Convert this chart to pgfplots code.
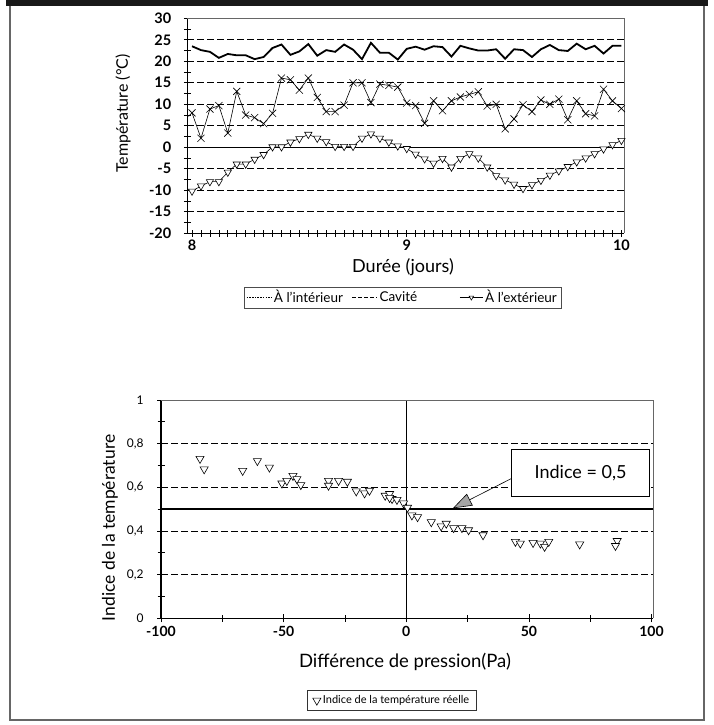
\documentclass[border=0pt]{standalone}
\usepackage{fontspec}
\setmainfont{Lato}
\usepackage{pgfplots}
\pgfplotsset{compat=1.18}
\usepackage{pgfplotstable}
\usetikzlibrary{arrows.meta}

\pgfplotstableread{
h v
0 23.5
1 22.6
2 22.2
3 20.8
4 21.7
5 21.4
6 21.4
7 20.5
8 21.0
9 23.1
10 23.9
11 21.5
12 22.3
13 24.0
14 21.3
15 22.6
16 22.2
17 23.9
18 22.7
19 20.5
20 24.3
21 22.0
22 22.0
23 20.4
24 22.9
25 23.4
26 22.7
27 23.5
28 23.3
29 21.1
30 23.6
31 23.0
32 22.5
33 22.5
34 22.8
35 20.6
36 22.8
37 22.6
38 21.0
39 22.8
40 23.8
41 22.6
42 22.4
43 24.1
44 22.8
45 23.6
46 21.8
47 23.6
48 23.6
}\inside

\pgfplotstableread{
h v
0 8.0
1 2.1
2 8.9
3 9.7
4 3.3
5 13.0
6 7.5
7 6.9
8 5.5
9 7.9
10 16.1
11 15.7
12 13.3
13 16.1
14 11.6
15 8.3
16 8.3
17 9.8
18 15.0
19 15.0
20 10.4
21 14.7
22 14.4
23 14.0
24 10.3
25 9.7
26 5.6
27 10.8
28 8.5
29 10.8
30 11.7
31 12.3
32 12.9
33 9.6
34 10.0
35 4.3
36 6.6
37 9.9
38 8.3
39 11.0
40 10.0
41 11.2
42 6.4
43 10.8
44 7.8
45 7.3
46 13.5
47 10.8
48 9.0
}\cavity

\pgfplotstableread{
h v
0 -10.2
1 -9.0
2 -8.0
3 -8.0
4 -5.8
5 -3.9
6 -3.9
7 -2.8
8 -1.7
9 0.1
10 0.1
11 1.2
12 2.0
13 3.0
14 2.1
15 1.3
16 0.2
17 0.2
18 0.2
19 2.1
20 3.1
21 2.1
22 1.2
23 0.3
24 -0.3
25 -1.6
26 -2.7
27 -3.7
28 -2.6
29 -4.6
30 -2.6
31 -1.5
32 -2.5
33 -4.6
34 -6.6
35 -7.6
36 -8.6
37 -9.6
38 -8.7
39 -7.7
40 -6.5
41 -5.5
42 -4.5
43 -3.4
44 -2.5
45 -1.5
46 -0.4
47 0.6
48 1.6
}\outside

\pgfplotstableread{
x y
-84.1 0.731
-82.4 0.683
-66.7 0.676
-60.7 0.721
-55.8 0.691
-50.7 0.618
-48.7 0.630
-46.2 0.653
-44.6 0.638
-43.0 0.611
-31.7 0.630
-31.7 0.608
-27.6 0.630
-24.0 0.626
-20.4 0.582
-17.0 0.573
-15.0 0.585
-8.6 0.562
-6.8 0.570
-5.8 0.547
-3.8 0.543
-6.8 0.552
-1.1 0.527
0.5 0.507
2.3 0.472
4.6 0.464
10.2 0.441
14.2 0.422
16.3 0.434
19.3 0.414
22.7 0.414
25.4 0.404
31.3 0.381
44.5 0.351
46.5 0.343
51.7 0.346
54.7 0.343
56.4 0.328
58.1 0.351
70.7 0.339
86.0 0.355
85.3 0.332
}\indice

\begin{document}
\begin{tikzpicture}
\path[use as bounding box] (0pt,0pt) rectangle (714pt,725pt);
\fill[white] (0pt,0pt) rectangle (714pt,725pt);

% ---------------- top chart ----------------
\begin{axis}[
  at={(187.3pt,491.7pt)}, anchor=south west,
  scale only axis, width=436.7pt, height=215pt,
  xmin=7.978, xmax=10.012, ymin=-20, ymax=30,
  axis x line*=bottom, axis y line*=left,
  axis line style={black, line width=1.1pt},
  xtick={8,9,10}, xticklabels={8,9,10}, minor x tick num=23,
  ytick={-20,-15,-10,-5,0,5,10,15,20,25,30},
  yticklabels={-20,-15,-10,-5,0,5,10,15,20,25,30},
  minor y tick num=1,
  tick align=center, major tick length=7pt, minor tick length=7pt,
  every tick/.style={black, line width=0.7pt},
  tick label style={font=\fontsize{14.5}{16}\selectfont\bfseries},
  y tick label style={xshift=-9pt},
  /pgf/number format/assume math mode=true,
  xlabel={Durée (jours)}, ylabel={Température (°C)},
  x label style={font=\fontsize{18}{20}\selectfont, at={(axis description cs:0.494,-0.157)}, anchor=center},
  y label style={font=\fontsize{16}{18}\selectfont, at={(axis description cs:-0.147,0.557)}, anchor=center},
  clip=false,
  legend columns=3,
  legend style={at={(axis description cs:0.493,-0.2986)}, anchor=center,
    draw=black!70, line width=0.6pt, font=\fontsize{13.5}{15}\selectfont,
    inner xsep=2pt, inner ysep=1.5pt},
  legend cell align=left,
]
\pgfplotsinvokeforeach{25,20,15,10,5,-5,-10,-15}{
  \draw[black, line width=0.8pt, dash pattern=on 6.5pt off 3.5pt] (axis cs:7.978,#1) -- (axis cs:10.012,#1);
}
\draw[black, line width=0.8pt] (axis cs:7.978,0) -- (axis cs:10.012,0);
\draw[black!60, line width=0.8pt] (axis cs:7.978,30) -- (axis cs:10.012,30) -- (axis cs:10.012,-20);

\addplot[black, line width=1.8pt, forget plot] table[x expr=8+\thisrow{h}/24, y=v] {\inside};
\addplot[black, line width=0.6pt, mark=x, mark size=5pt, mark options={line width=0.6pt}, forget plot] table[x expr=8+\thisrow{h}/24, y=v] {\cavity};
\addplot[black, line width=0.6pt, mark=triangle*, mark size=4.2pt, mark options={draw=black, fill=white, rotate=180, line width=0.6pt}, forget plot] table[x expr=8+\thisrow{h}/24, y=v] {\outside};

\addlegendimage{legend image code/.code={\draw[black, line width=0.6pt, dash pattern=on 1.5pt off 1.2pt] (0pt,0pt) -- (25pt,0pt);}}
\addlegendentry{\makebox[76pt][l]{À l'intérieur}}
\addlegendimage{legend image code/.code={\draw[black, line width=0.6pt, dash pattern=on 4pt off 2pt] (0pt,0pt) -- (25pt,0pt);}}
\addlegendentry{\makebox[78pt][l]{Cavité}}
\addlegendimage{legend image code/.code={\draw[black, line width=0.6pt] (0pt,0pt) -- (23pt,0pt);
    \draw[black, line width=0.6pt, fill=white] (11.5pt,-2.6pt) -- (13.7pt,1.3pt) -- (9.3pt,1.3pt) -- cycle;}}
\addlegendentry{À l'extérieur}
\end{axis}

% ---------------- bottom chart ----------------
\begin{axis}[
  at={(161pt,106.7pt)}, anchor=south west,
  scale only axis, width=492pt, height=218.3pt,
  xmin=-100, xmax=100.6, ymin=0, ymax=1,
  axis x line*=bottom, axis y line*=left,
  axis line style={black, line width=1.1pt},
  xtick={-100,-50,0,50,100}, xticklabels={-100,-50,0,50,100},
  minor xtick={-75,-25,25,75},
  ytick={0,0.2,0.4,0.6,0.8,1}, yticklabels={0,{0,2},{0,4},{0,6},{0,8},1},
  minor ytick={0.1,0.3,0.5,0.7,0.9},
  tick align=center, major tick length=8pt, minor tick length=7pt,
  every tick/.style={black, line width=0.7pt},
  x tick label style={font=\fontsize{14}{16}\selectfont\bfseries},
  y tick label style={font=\fontsize{12}{14}\selectfont, xshift=-10pt},
  /pgf/number format/assume math mode=true,
  xlabel={Différence de pression(Pa)}, ylabel={Indice de la température},
  x label style={font=\fontsize{18.5}{20}\selectfont, at={(axis description cs:0.496,-0.2)}, anchor=center},
  y label style={font=\fontsize{17.5}{20}\selectfont, at={(axis description cs:-0.104,0.414)}, anchor=center},
  clip=false,
  legend style={at={(axis description cs:0.4695,-0.3765)}, anchor=center,
    draw=black!80, line width=0.6pt, font=\fontsize{11}{13}\selectfont,
    inner xsep=5pt, inner ysep=3pt},
  legend image code/.code={\draw[#1] plot coordinates {(3pt,0pt)};},
]
\pgfplotsinvokeforeach{0.2,0.4,0.6,0.8}{
  \draw[black, line width=0.8pt, dash pattern=on 6.5pt off 3.5pt] (axis cs:-100,#1) -- (axis cs:100.6,#1);
}
\draw[black, line width=1.8pt] (axis cs:-100,0.5) -- (axis cs:100.6,0.5);
\draw[black, line width=0.6pt] (axis cs:0,0) -- (axis cs:0,1);
\draw[black!60, line width=0.8pt] (axis cs:-100,1) -- (axis cs:100.6,1) -- (axis cs:100.6,0);

\addplot[only marks, mark=triangle*, mark size=4.7pt, mark options={draw=black, fill=white, rotate=180, line width=0.6pt}] table[x=x, y=y] {\indice};
\addlegendentry{Indice de la température réelle}

\draw[black, line width=0.6pt, fill=white] (axis cs:43.0,0.557) rectangle (axis cs:99.2,0.774);
\node[font=\fontsize{18}{20}\selectfont] at (axis cs:71.1,0.6655) {Indice = 0,5};
\draw[black, line width=0.6pt, -{Triangle[length=19pt,width=13pt,fill=gray!70]}] (axis cs:43.0,0.641) -- (axis cs:19.0,0.504);
\end{axis}

% ---------------- page frame ----------------
\fill[black!90] (6pt,719.3pt) rectangle (708pt,725pt);
\draw[black!60, line width=1.5pt] (10pt,719.3pt) -- (10pt,5pt) -- (704pt,5pt) -- (704pt,719.3pt);
\end{tikzpicture}
\end{document}
